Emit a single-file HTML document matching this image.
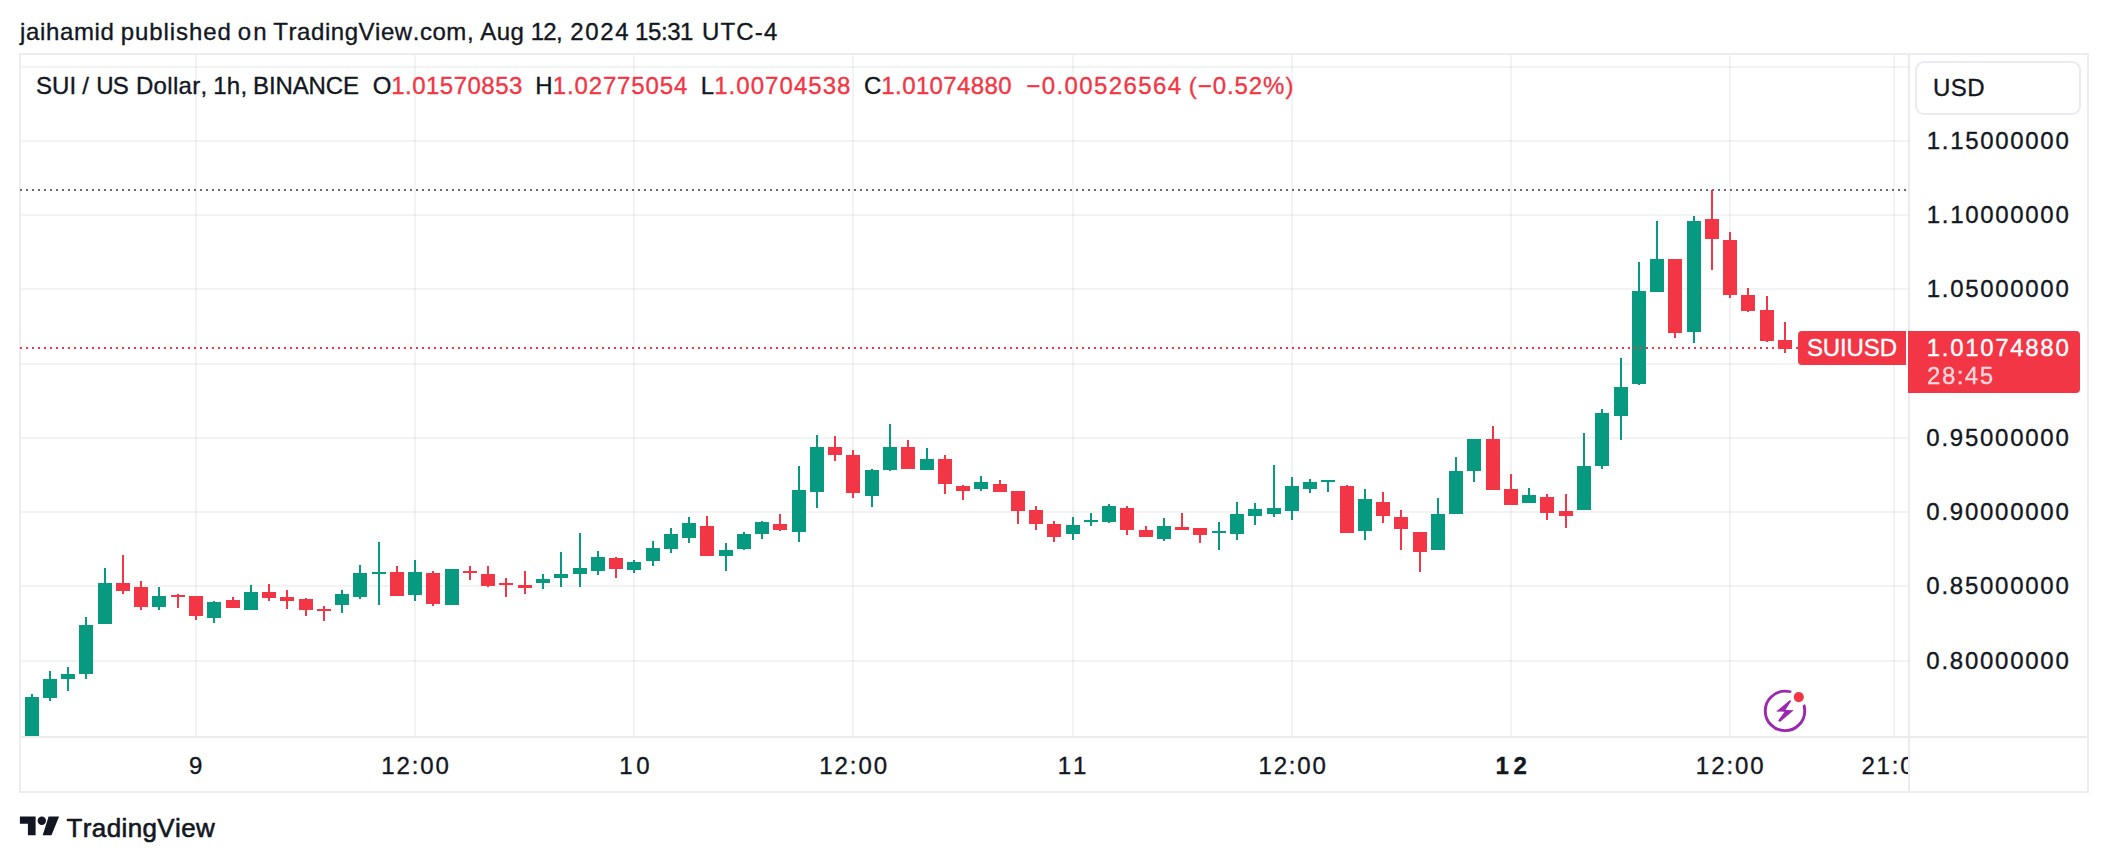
<!DOCTYPE html>
<html lang="en"><head><meta charset="utf-8"><title>SUIUSD chart - TradingView</title>
<style>
html,body{margin:0;padding:0;background:#fff;}
body{width:2108px;height:862px;position:relative;overflow:hidden;font-family:"Liberation Sans",sans-serif;}
#frame{position:absolute;left:19px;top:53px;width:2070px;height:740px;box-sizing:border-box;border:2px solid #ebedf3;}
#vsep{position:absolute;left:1908px;top:55px;width:2px;height:736px;background:#ebebec;}
#hsep{position:absolute;left:21px;top:736px;width:2066px;height:2px;background:#ebebec;}
#usd{position:absolute;left:1915px;top:61px;width:166px;height:54px;box-sizing:border-box;border:2px solid #e9ebf1;border-radius:9px;background:#fff;}
svg{position:absolute;left:0;top:0;}
svg text{font-family:"Liberation Sans",sans-serif;white-space:pre;font-kerning:none;stroke-width:0.35px;stroke-linejoin:round;}
</style></head><body>
<div id="frame"></div><div id="hsep"></div><div id="vsep"></div><div id="usd"></div>
<svg width="2108" height="862" viewBox="0 0 2108 862">
<defs><clipPath id="tclip"><rect x="21" y="738" width="1887" height="53"/></clipPath></defs>

<g fill="rgba(42,46,57,0.06)" shape-rendering="crispEdges">
<rect x="195" y="55" width="2" height="681"/>
<rect x="414" y="55" width="2" height="681"/>
<rect x="633" y="55" width="2" height="681"/>
<rect x="852" y="55" width="2" height="681"/>
<rect x="1072" y="55" width="2" height="681"/>
<rect x="1291" y="55" width="2" height="681"/>
<rect x="1510" y="55" width="2" height="681"/>
<rect x="1729" y="55" width="2" height="681"/>
<rect x="1893" y="55" width="2" height="681"/>
<rect x="21" y="66" width="1887" height="2"/>
<rect x="21" y="140" width="1887" height="2"/>
<rect x="21" y="214" width="1887" height="2"/>
<rect x="21" y="288" width="1887" height="2"/>
<rect x="21" y="363" width="1887" height="2"/>
<rect x="21" y="437" width="1887" height="2"/>
<rect x="21" y="511" width="1887" height="2"/>
<rect x="21" y="585" width="1887" height="2"/>
<rect x="21" y="660" width="1887" height="2"/>
</g>
<line x1="20" y1="190" x2="1908" y2="190" stroke="#666974" stroke-width="2" stroke-dasharray="2 4" shape-rendering="crispEdges"/>
<g fill="#089981" shape-rendering="crispEdges">
<rect x="31" y="694" width="2" height="42"/><rect x="25" y="697" width="14" height="39"/>
<rect x="49" y="671" width="2" height="30"/><rect x="43" y="679" width="14" height="19"/>
<rect x="67" y="667" width="2" height="24"/><rect x="61" y="674" width="14" height="5"/>
<rect x="85" y="617" width="2" height="62"/><rect x="79" y="625" width="14" height="49"/>
<rect x="104" y="568" width="2" height="56"/><rect x="98" y="583" width="14" height="41"/>
<rect x="158" y="587" width="2" height="23"/><rect x="152" y="596" width="14" height="11"/>
<rect x="213" y="601" width="2" height="22"/><rect x="207" y="602" width="14" height="16"/>
<rect x="250" y="585" width="2" height="25"/><rect x="244" y="592" width="14" height="18"/>
<rect x="341" y="590" width="2" height="23"/><rect x="335" y="594" width="14" height="11"/>
<rect x="359" y="565" width="2" height="34"/><rect x="353" y="573" width="14" height="24"/>
<rect x="378" y="542" width="2" height="63"/><rect x="372" y="572" width="14" height="2"/>
<rect x="414" y="560" width="2" height="41"/><rect x="408" y="572" width="14" height="23"/>
<rect x="451" y="569" width="2" height="36"/><rect x="445" y="569" width="14" height="36"/>
<rect x="542" y="574" width="2" height="15"/><rect x="536" y="579" width="14" height="4"/>
<rect x="560" y="552" width="2" height="35"/><rect x="554" y="574" width="14" height="4"/>
<rect x="579" y="533" width="2" height="54"/><rect x="573" y="568" width="14" height="6"/>
<rect x="597" y="551" width="2" height="24"/><rect x="591" y="557" width="14" height="14"/>
<rect x="633" y="560" width="2" height="13"/><rect x="627" y="562" width="14" height="8"/>
<rect x="652" y="541" width="2" height="25"/><rect x="646" y="548" width="14" height="13"/>
<rect x="670" y="528" width="2" height="25"/><rect x="664" y="534" width="14" height="15"/>
<rect x="688" y="517" width="2" height="26"/><rect x="682" y="523" width="14" height="15"/>
<rect x="725" y="543" width="2" height="28"/><rect x="719" y="550" width="14" height="6"/>
<rect x="743" y="532" width="2" height="18"/><rect x="737" y="534" width="14" height="15"/>
<rect x="761" y="521" width="2" height="18"/><rect x="755" y="522" width="14" height="12"/>
<rect x="798" y="466" width="2" height="76"/><rect x="792" y="490" width="14" height="42"/>
<rect x="816" y="435" width="2" height="73"/><rect x="810" y="447" width="14" height="45"/>
<rect x="871" y="469" width="2" height="38"/><rect x="865" y="470" width="14" height="26"/>
<rect x="889" y="424" width="2" height="47"/><rect x="883" y="447" width="14" height="23"/>
<rect x="926" y="448" width="2" height="22"/><rect x="920" y="459" width="14" height="11"/>
<rect x="980" y="476" width="2" height="15"/><rect x="974" y="482" width="14" height="7"/>
<rect x="1072" y="517" width="2" height="23"/><rect x="1066" y="525" width="14" height="9"/>
<rect x="1090" y="513" width="2" height="13"/><rect x="1084" y="520" width="14" height="2"/>
<rect x="1108" y="504" width="2" height="19"/><rect x="1102" y="506" width="14" height="16"/>
<rect x="1163" y="518" width="2" height="23"/><rect x="1157" y="526" width="14" height="13"/>
<rect x="1218" y="522" width="2" height="28"/><rect x="1212" y="531" width="14" height="2"/>
<rect x="1236" y="502" width="2" height="38"/><rect x="1230" y="514" width="14" height="20"/>
<rect x="1254" y="503" width="2" height="22"/><rect x="1248" y="509" width="14" height="7"/>
<rect x="1273" y="465" width="2" height="52"/><rect x="1267" y="508" width="14" height="6"/>
<rect x="1291" y="477" width="2" height="43"/><rect x="1285" y="486" width="14" height="25"/>
<rect x="1309" y="479" width="2" height="14"/><rect x="1303" y="482" width="14" height="7"/>
<rect x="1327" y="480" width="2" height="12"/><rect x="1321" y="480" width="14" height="2"/>
<rect x="1364" y="489" width="2" height="51"/><rect x="1358" y="499" width="14" height="32"/>
<rect x="1437" y="498" width="2" height="52"/><rect x="1431" y="514" width="14" height="36"/>
<rect x="1455" y="457" width="2" height="57"/><rect x="1449" y="471" width="14" height="43"/>
<rect x="1473" y="439" width="2" height="43"/><rect x="1467" y="439" width="14" height="32"/>
<rect x="1528" y="488" width="2" height="15"/><rect x="1522" y="495" width="14" height="8"/>
<rect x="1583" y="433" width="2" height="77"/><rect x="1577" y="466" width="14" height="44"/>
<rect x="1601" y="409" width="2" height="60"/><rect x="1595" y="413" width="14" height="53"/>
<rect x="1620" y="358" width="2" height="82"/><rect x="1614" y="387" width="14" height="29"/>
<rect x="1638" y="262" width="2" height="123"/><rect x="1632" y="291" width="14" height="93"/>
<rect x="1656" y="221" width="2" height="71"/><rect x="1650" y="259" width="14" height="33"/>
<rect x="1693" y="216" width="2" height="127"/><rect x="1687" y="221" width="14" height="111"/>
</g>
<g fill="#f23645" shape-rendering="crispEdges">
<rect x="122" y="555" width="2" height="39"/><rect x="116" y="583" width="14" height="8"/>
<rect x="140" y="581" width="2" height="29"/><rect x="134" y="587" width="14" height="20"/>
<rect x="177" y="594" width="2" height="14"/><rect x="171" y="595" width="14" height="2"/>
<rect x="195" y="596" width="2" height="24"/><rect x="189" y="596" width="14" height="20"/>
<rect x="232" y="597" width="2" height="11"/><rect x="226" y="600" width="14" height="8"/>
<rect x="268" y="584" width="2" height="17"/><rect x="262" y="592" width="14" height="6"/>
<rect x="286" y="590" width="2" height="19"/><rect x="280" y="597" width="14" height="4"/>
<rect x="305" y="598" width="2" height="18"/><rect x="299" y="599" width="14" height="11"/>
<rect x="323" y="606" width="2" height="15"/><rect x="317" y="609" width="14" height="2"/>
<rect x="396" y="566" width="2" height="30"/><rect x="390" y="572" width="14" height="24"/>
<rect x="432" y="571" width="2" height="35"/><rect x="426" y="573" width="14" height="31"/>
<rect x="469" y="566" width="2" height="14"/><rect x="463" y="571" width="14" height="2"/>
<rect x="487" y="566" width="2" height="21"/><rect x="481" y="574" width="14" height="12"/>
<rect x="505" y="578" width="2" height="19"/><rect x="499" y="583" width="14" height="2"/>
<rect x="524" y="571" width="2" height="23"/><rect x="518" y="585" width="14" height="3"/>
<rect x="615" y="557" width="2" height="21"/><rect x="609" y="558" width="14" height="11"/>
<rect x="706" y="516" width="2" height="40"/><rect x="700" y="526" width="14" height="30"/>
<rect x="779" y="514" width="2" height="17"/><rect x="773" y="524" width="14" height="6"/>
<rect x="834" y="436" width="2" height="25"/><rect x="828" y="447" width="14" height="8"/>
<rect x="852" y="450" width="2" height="48"/><rect x="846" y="455" width="14" height="38"/>
<rect x="907" y="440" width="2" height="29"/><rect x="901" y="447" width="14" height="22"/>
<rect x="944" y="455" width="2" height="39"/><rect x="938" y="459" width="14" height="25"/>
<rect x="962" y="485" width="2" height="15"/><rect x="956" y="486" width="14" height="5"/>
<rect x="999" y="480" width="2" height="12"/><rect x="993" y="484" width="14" height="8"/>
<rect x="1017" y="491" width="2" height="33"/><rect x="1011" y="491" width="14" height="20"/>
<rect x="1035" y="506" width="2" height="24"/><rect x="1029" y="510" width="14" height="14"/>
<rect x="1053" y="521" width="2" height="21"/><rect x="1047" y="524" width="14" height="13"/>
<rect x="1126" y="506" width="2" height="29"/><rect x="1120" y="508" width="14" height="22"/>
<rect x="1145" y="526" width="2" height="11"/><rect x="1139" y="530" width="14" height="7"/>
<rect x="1181" y="513" width="2" height="17"/><rect x="1175" y="527" width="14" height="3"/>
<rect x="1199" y="528" width="2" height="15"/><rect x="1193" y="528" width="14" height="7"/>
<rect x="1346" y="485" width="2" height="48"/><rect x="1340" y="486" width="14" height="47"/>
<rect x="1382" y="492" width="2" height="31"/><rect x="1376" y="502" width="14" height="14"/>
<rect x="1400" y="510" width="2" height="40"/><rect x="1394" y="517" width="14" height="12"/>
<rect x="1419" y="532" width="2" height="40"/><rect x="1413" y="532" width="14" height="20"/>
<rect x="1492" y="426" width="2" height="64"/><rect x="1486" y="439" width="14" height="51"/>
<rect x="1510" y="474" width="2" height="31"/><rect x="1504" y="489" width="14" height="16"/>
<rect x="1546" y="494" width="2" height="26"/><rect x="1540" y="497" width="14" height="16"/>
<rect x="1565" y="494" width="2" height="34"/><rect x="1559" y="511" width="14" height="5"/>
<rect x="1674" y="259" width="2" height="79"/><rect x="1668" y="259" width="14" height="74"/>
<rect x="1711" y="190" width="2" height="80"/><rect x="1705" y="219" width="14" height="20"/>
<rect x="1729" y="232" width="2" height="66"/><rect x="1723" y="240" width="14" height="55"/>
<rect x="1747" y="288" width="2" height="24"/><rect x="1741" y="295" width="14" height="16"/>
<rect x="1766" y="296" width="2" height="46"/><rect x="1760" y="310" width="14" height="31"/>
<rect x="1784" y="322" width="2" height="31"/><rect x="1778" y="340" width="14" height="9"/>
</g>
<line x1="20" y1="348" x2="1800" y2="348" stroke="#f23645" stroke-width="2" stroke-dasharray="2 4" shape-rendering="crispEdges"/>
<path d="M1802 331H1906V365H1802a4 4 0 0 1-4-4V335a4 4 0 0 1 4-4z" fill="#f23645"/>
<path d="M1908 331H2076a4 4 0 0 1 4 4V389a4 4 0 0 1-4 4H1908z" fill="#f23645"/>
<text x="1806.91" y="355.80" font-size="24" letter-spacing="-0.108" fill="#fff" stroke="#fff">SUIUSD</text>
<text x="1926.77" y="355.50" font-size="24" letter-spacing="1.685" fill="#fff" stroke="#fff">1.01074880</text>
<text x="1927.09" y="384.00" font-size="24" letter-spacing="1.464" fill="#fff" stroke="#fff" opacity="0.8">28:45</text>
<text y="39.60" font-size="24" fill="#131722" stroke="#131722"><tspan x="20.09" letter-spacing="0.626">jaihamid </tspan><tspan x="120.65" letter-spacing="0.943">published </tspan><tspan x="237.69" letter-spacing="2.171">on </tspan><tspan x="273.36" letter-spacing="0.542">TradingView.com, </tspan><tspan x="480.25" letter-spacing="0.445">Aug </tspan><tspan x="530.77" letter-spacing="-0.789">12, </tspan><tspan x="570.19" letter-spacing="1.640">2024 </tspan><tspan x="634.97" letter-spacing="-0.390">15:31 </tspan><tspan x="701.95" letter-spacing="1.173">UTC-4</tspan></text>
<text y="93.70" font-size="24" fill="#131722" stroke="#131722"><tspan x="35.91" letter-spacing="0.148">SUI </tspan><tspan x="82.30" letter-spacing="0.000">/ </tspan><tspan x="96.25" letter-spacing="-0.887">US </tspan><tspan x="135.93" letter-spacing="0.329">Dollar, </tspan><tspan x="213.27" letter-spacing="0.261">1h, </tspan><tspan x="253.03" letter-spacing="-0.131">BINANCE</tspan></text>
<text x="372.66" y="93.70" font-size="24" letter-spacing="0.000" fill="#131722" stroke="#131722">O</text>
<text x="391.17" y="93.70" font-size="24" letter-spacing="0.487" fill="#f23645" stroke="#f23645">1.01570853</text>
<text x="535.33" y="93.70" font-size="24" letter-spacing="0.000" fill="#131722" stroke="#131722">H</text>
<text x="552.77" y="93.70" font-size="24" letter-spacing="0.859" fill="#f23645" stroke="#f23645">1.02775054</text>
<text x="700.63" y="93.70" font-size="24" letter-spacing="0.000" fill="#131722" stroke="#131722">L</text>
<text x="714.17" y="93.70" font-size="24" letter-spacing="1.053" fill="#f23645" stroke="#f23645">1.00704538</text>
<text x="863.98" y="93.70" font-size="24" letter-spacing="0.000" fill="#131722" stroke="#131722">C</text>
<text x="881.37" y="93.70" font-size="24" letter-spacing="0.385" fill="#f23645" stroke="#f23645">1.01074880</text>
<text x="1026.32" y="93.70" font-size="24" letter-spacing="1.397" fill="#f23645" stroke="#f23645">−0.00526564</text>
<text x="1188.81" y="93.70" font-size="24" letter-spacing="0.932" fill="#f23645" stroke="#f23645">(−0.52%)</text>
<text x="1932.95" y="95.70" font-size="24" letter-spacing="0.514" fill="#131722" stroke="#131722">USD</text>
<text x="1926.77" y="148.80" font-size="24" letter-spacing="1.685" fill="#131722" stroke="#131722">1.15000000</text>
<text x="1926.77" y="222.80" font-size="24" letter-spacing="1.685" fill="#131722" stroke="#131722">1.10000000</text>
<text x="1926.77" y="296.80" font-size="24" letter-spacing="1.685" fill="#131722" stroke="#131722">1.05000000</text>
<text x="1926.36" y="445.80" font-size="24" letter-spacing="1.731" fill="#131722" stroke="#131722">0.95000000</text>
<text x="1926.36" y="519.80" font-size="24" letter-spacing="1.731" fill="#131722" stroke="#131722">0.90000000</text>
<text x="1926.36" y="593.80" font-size="24" letter-spacing="1.731" fill="#131722" stroke="#131722">0.85000000</text>
<text x="1926.36" y="668.80" font-size="24" letter-spacing="1.731" fill="#131722" stroke="#131722">0.80000000</text>
<g clip-path="url(#tclip)">
<text x="189.03" y="773.80" font-size="24" letter-spacing="0.000" fill="#131722" stroke="#131722">9</text>
<text x="381.17" y="773.80" font-size="24" letter-spacing="1.927" fill="#131722" stroke="#131722">12:00</text>
<text x="619.27" y="773.80" font-size="24" letter-spacing="3.670" fill="#131722" stroke="#131722">10</text>
<text x="819.27" y="773.80" font-size="24" letter-spacing="1.927" fill="#131722" stroke="#131722">12:00</text>
<text x="1057.87" y="773.80" font-size="24" letter-spacing="1.705" fill="#131722" stroke="#131722">11</text>
<text x="1258.47" y="773.80" font-size="24" letter-spacing="1.827" fill="#131722" stroke="#131722">12:00</text>
<text x="1495.59" y="773.80" font-size="24" letter-spacing="4.577" font-weight="700" fill="#131722" stroke="#131722">12</text>
<text x="1695.87" y="773.80" font-size="24" letter-spacing="1.927" fill="#131722" stroke="#131722">12:00</text>
<text x="1861.49" y="773.80" font-size="24" letter-spacing="1.771" fill="#131722" stroke="#131722">21:00</text>
</g>
<mask id="dotm" maskUnits="userSpaceOnUse" x="1750" y="680" width="70" height="60"><rect x="1750" y="680" width="70" height="60" fill="#fff"/><circle cx="1798.8" cy="697.1" r="9.4" fill="#000"/></mask>
<g><circle cx="1785" cy="710.9" r="19.75" fill="none" stroke="#9c27b0" stroke-width="2.9" mask="url(#dotm)"/>
<polygon points="1790.0,700.1 1791.1,701.2 1785.4,709.9 1793.8,710.2 1779.9,721.9 1778.1,720.6 1784.6,711.8 1776.2,711.5" fill="#9c27b0"/>
<circle cx="1798.8" cy="697.1" r="5.1" fill="#f23645"/></g>
<g fill="#131722"><path d="M19.9 816.5H35.6V835.3H27.9V823.8H19.9z"/><circle cx="41.8" cy="820.7" r="4.2"/><path d="M48.6 816.5H59.1L51.5 835.3H42.7z"/></g>
<text x="66.52" y="836.60" font-size="26" letter-spacing="0.381" fill="#131722" stroke="#131722" style="stroke-width:0.6px">TradingView</text>
</svg></body></html>
